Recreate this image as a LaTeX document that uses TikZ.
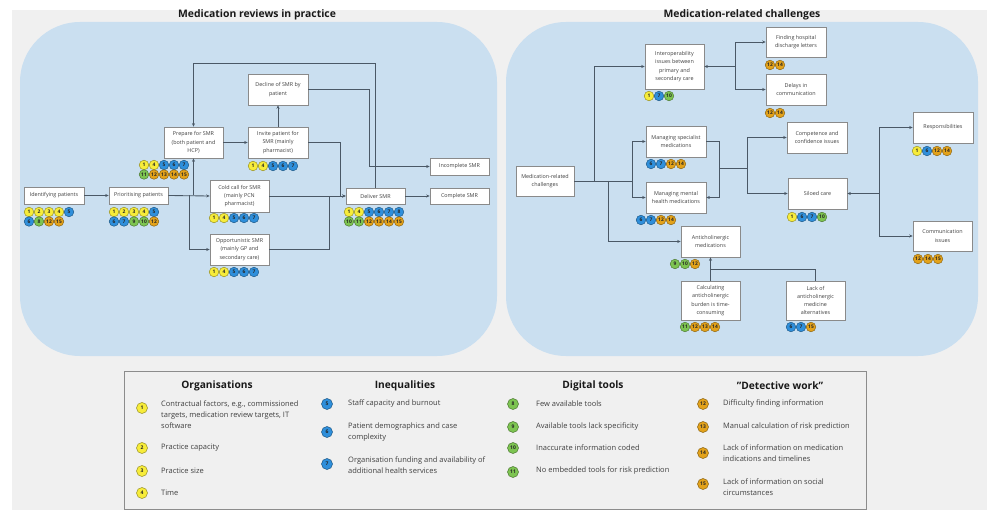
\documentclass[tikz,border=0pt]{standalone}
\usepackage{fontspec}
\setmainfont{Open Sans}
\usetikzlibrary{arrows.meta,calc}
\definecolor{panel}{HTML}{CADFF0}
\definecolor{bgc}{HTML}{F0F0F0}
\definecolor{lnc}{HTML}{4A5866}
\definecolor{bxd}{HTML}{8A8A8A}
\definecolor{bY}{HTML}{F7EC3A}
\definecolor{bB}{HTML}{2F8FDB}
\definecolor{bG}{HTML}{7DC451}
\definecolor{bO}{HTML}{E3A21A}
\definecolor{txt}{HTML}{404040}
\newcounter{bdgc}
\newcommand\badgerow[3]{\foreach \bc/\bn [count=\bi from 0] in {#3}{\stepcounter{bdgc}\node[badge,fill=\bc,draw=\bc!60!black,name=bd\arabic{bdgc}] at ({#1+10*\bi},#2) {\bn};}}
\newcommand\legitem[7]{% circle x, circle y, colour, number, text x, text y, text
  \node[legdot,fill=#3,draw=#3!60!black,name=ld#4] at (#1,#2) {#4};
  \node[legtext,name=lt#4] at (#5,#6) {#7};}
\tikzset{
  x=1pt, y=-1pt,
  box/.style={draw=bxd, fill=white, line width=0.6pt, align=center, inner sep=1pt,
    text=txt, font=\fontsize{5.4}{8.3}\selectfont},
  badge/.style={circle, inner sep=0pt, minimum size=9.6pt, line width=0.45pt,
    font=\fontsize{4.9}{4.9}\selectfont\bfseries, text=black!85},
  legdot/.style={circle, inner sep=0pt, minimum size=11pt, line width=0.5pt,
    font=\fontsize{5}{5}\selectfont\bfseries, text=black!85},
  legtext/.style={anchor=west, align=left, inner sep=0pt, text=txt,
    font=\fontsize{7.5}{11}\selectfont},
  leghead/.style={font=\fontsize{10.2}{11}\selectfont\bfseries, text=black!90},
  ttl/.style={font=\fontsize{10.4}{11}\selectfont\bfseries, text=black!90},
  arr/.style={draw=lnc, line width=0.85pt, -{Stealth[length=3.5pt,width=3pt]}},
  ln/.style={draw=lnc, line width=0.85pt},
}
\begin{document}
\begin{tikzpicture}
\useasboundingbox (0,0) rectangle (987,510);
\fill[bgc] (12,10) rectangle (987,510);
% panels
\fill[panel, rounded corners=60pt] (20,22) rectangle (497,356);
\fill[panel, rounded corners=60pt] (506,22) rectangle (978,356);
\node[ttl] (t1) at (257,15) {Medication reviews in practice};
\node[ttl] (t2) at (742,15) {Medication-related challenges};

% ---------- left panel ----------
\node[box, minimum width=60pt, minimum height=17pt] (idp) at (54,195.5) {Identifying patients};
\node[box, minimum width=59pt, minimum height=17pt] (prio) at (138.5,195.5) {Prioritising patients};
\node[box, minimum width=59pt, minimum height=31pt] (prep) at (193.5,142.5) {Prepare for SMR\\(both patient and\\HCP)};
\node[box, minimum width=60pt, minimum height=31pt] (inv) at (278,142.5) {Invite patient for\\SMR (mainly\\pharmacist)};
\node[box, minimum width=60pt, minimum height=31pt] (decl) at (278,89.5) {Decline of SMR by\\patient};
\node[box, minimum width=59pt, minimum height=32pt] (cold) at (239.5,196) {Cold call for SMR\\(mainly PCN\\pharmacist)};
\node[box, minimum width=59pt, minimum height=31pt] (opp) at (239.5,249.5) {Opportunistic SMR\\(mainly GP and\\secondary care)};
\node[box, minimum width=59pt, minimum height=16pt] (deliv) at (375.5,196) {Deliver SMR};
\node[box, minimum width=59pt, minimum height=17pt] (inc) at (459.5,166.5) {Incomplete SMR};
\node[box, minimum width=59pt, minimum height=16pt] (comp) at (459.5,196) {Complete SMR};

\coordinate (j1) at (193.5,195.5);
\coordinate (j2) at (189,195.5);
\coordinate (j3) at (340,142.5);
\coordinate (j4) at (329,196);
\coordinate (lt) at (193.5,63);
\coordinate (dx) at (369,89.5);

\draw[arr] (idp) -- (prio);
\draw[arr] (prio.east) -- (cold.west);
\draw[arr] (j1) -- (prep.south);
\draw[arr] (j2) |- (opp.west);
\draw[arr] (prep) -- (inv);
\draw[arr] (inv) -- (decl);
\draw[arr] (inv.east) -- (j3) |- (deliv.west);
\draw[arr] (cold) -- (deliv);
\draw[ln] (opp.east) -| (j4);
\draw[arr] (deliv) -- (comp);
\draw[arr] (deliv.north) |- (lt) -- (prep.north);
\draw[arr] (decl.east) -- (dx) |- (inc.west);

\badgerow{29}{212}{bY/1,bY/2,bY/3,bY/4,bB/5}
\badgerow{29}{221.5}{bB/6,bG/8,bO/12,bO/15}
\badgerow{114}{212}{bY/1,bY/2,bY/3,bY/4,bB/5}
\badgerow{114}{221.5}{bB/6,bB/7,bG/9,bG/10,bO/12}
\badgerow{144}{165}{bY/1,bY/4,bB/5,bB/6,bB/7}
\badgerow{144}{174.5}{bG/11,bO/12,bO/13,bO/14,bO/15}
\badgerow{253}{166}{bY/1,bY/4,bB/5,bB/6,bB/7}
\badgerow{214}{218}{bY/1,bY/4,bB/5,bB/6,bB/7}
\badgerow{214}{272}{bY/1,bY/4,bB/5,bB/6,bB/7}
\badgerow{349}{212}{bY/1,bY/4,bB/5,bB/6,bB/7,bB/8}
\badgerow{349}{221.5}{bG/10,bG/11,bO/12,bO/13,bO/14,bO/15}

% ---------- right panel ----------
\node[box, minimum width=58pt, minimum height=30pt] (mrc) at (545,181) {Medication-related\\challenges};
\node[box, minimum width=59pt, minimum height=45pt] (inter) at (674.5,66.5) {Interoperability\\issues between\\primary and\\secondary care};
\node[box, minimum width=60pt, minimum height=30pt] (find) at (796,42) {Finding hospital\\discharge letters};
\node[box, minimum width=60pt, minimum height=31pt] (delay) at (796,89.5) {Delays in\\communication};
\node[box, minimum width=60pt, minimum height=31pt] (spec) at (676,141.5) {Managing specialist\\medications};
\node[box, minimum width=60pt, minimum height=31pt] (ment) at (676,197.5) {Managing mental\\health medications};
\node[box, minimum width=60pt, minimum height=31pt] (cci) at (817,137.5) {Competence and\\confidence issues};
\node[box, minimum width=59pt, minimum height=31pt] (silo) at (817.5,193.5) {Siloed care};
\node[box, minimum width=60pt, minimum height=31pt] (resp) at (943,127.5) {Responsibilities};
\node[box, minimum width=59pt, minimum height=30pt] (comm) at (942.5,236) {Communication\\issues};
\node[box, minimum width=59pt, minimum height=31pt] (anti) at (710.5,241.5) {Anticholinergic\\medications};
\node[box, minimum width=59pt, minimum height=39pt] (calc) at (710.5,300.5) {Calculating\\anticholinergic\\burden is time-\\consuming};
\node[box, minimum width=59pt, minimum height=39pt] (lack) at (815.5,300.5) {Lack of\\anticholinergic\\medicine\\alternatives};

\coordinate (r1) at (632,181);
\coordinate (r2) at (594,181);
\coordinate (r3) at (608,181);
\coordinate (r4) at (735,66.5);
\coordinate (r5) at (719,141.5);
\coordinate (r6) at (719,168);
\coordinate (r7) at (747,168);
\coordinate (r8) at (879,193.5);
\coordinate (r9) at (710.5,269);

\draw[ln] (mrc.east) -- (r1);
\draw[arr] (r2) |- (inter.west);
\draw[arr] (r3) |- (anti.west);
\draw[arr] (r1) |- (spec.west);
\draw[arr] (r1) |- (ment.west);
\draw[arr] (r4) -- (inter.east);
\draw[arr] (r4) |- (find.west);
\draw[arr] (r4) |- (delay.west);
\draw[arr] (spec.east) -- (r5) |- (ment.east);
\draw[ln] (r6) -- (r7);
\draw[arr] (r7) |- (cci.west);
\draw[arr] (r7) |- (silo.west);
\draw[arr] (r8) -- (silo.east);
\draw[arr] (r8) |- (resp.west);
\draw[arr] (r8) |- (comm.west);
\draw[arr] (calc) -- (anti);
\draw[ln] (lack.north) |- (r9);

\badgerow{649}{96}{bY/1,bB/7,bG/10}
\badgerow{770}{65}{bO/12,bO/14}
\badgerow{770}{113}{bO/12,bO/14}
\badgerow{651}{164}{bB/6,bB/7,bO/12,bO/14}
\badgerow{641}{220}{bB/6,bB/7,bO/12,bO/14}
\badgerow{792}{217}{bY/1,bB/6,bB/7,bG/10}
\badgerow{917}{151}{bY/1,bB/6,bO/12,bO/14}
\badgerow{918}{259}{bO/12,bO/14,bO/15}
\badgerow{675}{264}{bG/9,bG/10,bO/12}
\badgerow{685}{327}{bG/11,bO/12,bO/13,bO/14}
\badgerow{791}{327}{bB/6,bB/7,bO/15}

% ---------- legend ----------
\draw[draw=black!45, line width=0.7pt, fill=bgc] (124,371) rectangle (866,509);
\node[leghead] (h1) at (217,386) {Organisations};
\node[leghead] (h2) at (405,386) {Inequalities};
\node[leghead] (h3) at (593,386) {Digital tools};
\node[leghead] (h4) at (780,386) {\symbol{34}Detective work\symbol{34}};

\legitem{142}{408}{bY}{1}{161}{415}{Contractual factors, e.g., commissioned\\targets, medication review targets, IT\\software}
\legitem{142}{448}{bY}{2}{161}{448}{Practice capacity}
\legitem{142}{471}{bY}{3}{161}{471}{Practice size}
\legitem{142}{493}{bY}{4}{161}{493}{Time}

\legitem{327}{404}{bB}{5}{348}{404}{Staff capacity and burnout}
\legitem{327}{432}{bB}{6}{348}{432}{Patient demographics and case\\complexity}
\legitem{327}{464}{bB}{7}{348}{465.5}{Organisation funding and availability of\\additional health services}

\legitem{513}{404}{bG}{8}{536}{404}{Few available tools}
\legitem{513}{427}{bG}{9}{536}{427}{Available tools lack specificity}
\legitem{513}{448}{bG}{10}{536}{448}{Inaccurate information coded}
\legitem{513}{472}{bG}{11}{536}{471}{No embedded tools for risk prediction}

\legitem{703}{404}{bO}{12}{723}{404}{Difficulty finding information}
\legitem{703}{427}{bO}{13}{723}{427}{Manual calculation of risk prediction}
\legitem{703}{453}{bO}{14}{723}{453.5}{Lack of information on medication\\indications and timelines}
\legitem{703}{484}{bO}{15}{723}{487.5}{Lack of information on social\\circumstances}
\end{tikzpicture}
\end{document}
